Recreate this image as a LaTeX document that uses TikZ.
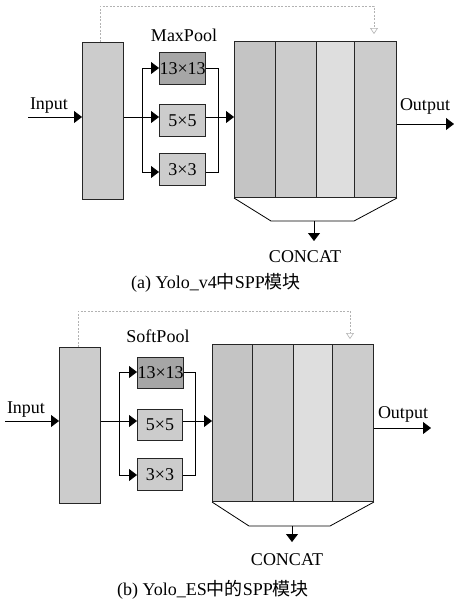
\documentclass[tikz,border=0pt]{standalone}
\usepackage{fontspec}
\setmainfont{Liberation Serif}
\newfontfamily\cjk{Noto Sans CJK SC}
\usetikzlibrary{arrows.meta}
\begin{document}
\begin{tikzpicture}[x=1pt,y=-1pt,
  font=\fontsize{18}{20}\selectfont,
  box/.style={draw=black!85,line width=1pt,inner sep=0pt,anchor=north west},
  lightbox/.style={box,fill=gray!40},
  darkbox/.style={box,fill=gray!70},
  colA/.style={box,fill=gray!46},
  colB/.style={box,fill=gray!40},
  colC/.style={box,fill=gray!26},
  lbl/.style={inner sep=0pt},
  ln/.style={line width=0.8pt,draw=black},
  arr/.style={ln,-{Triangle[length=8pt,width=12pt]}},
  skip/.style={draw=gray!60,line width=0.6pt,dash pattern=on 2pt off 1.5pt,-{Triangle[open,length=6pt,width=8pt]}},
]
\useasboundingbox (0,0) rectangle (454,603);

% ---------------- Panel (a) ----------------
\node[lightbox,minimum width=41pt,minimum height=157pt] (ainbox) at (82,42) {};
\node[darkbox,minimum width=46pt,minimum height=32pt] (a13) at (159,52) {13×13};
\node[lightbox,minimum width=46pt,minimum height=32pt] (a5) at (159,104) {5×5};
\node[lightbox,minimum width=46pt,minimum height=32pt] (a3) at (159,153) {3×3};
\node[colA,minimum width=41pt,minimum height=156pt] (ac1) at (234,41) {};
\node[colB,minimum width=41pt,minimum height=156pt] (ac2) at (275,41) {};
\node[colC,minimum width=38pt,minimum height=156pt] (ac3) at (316,41) {};
\node[colB,minimum width=42pt,minimum height=156pt] (ac4) at (354,41) {};

\node[lbl] (ainput) at (49,106) {Input};
\node[lbl] (aoutput) at (425,106) {Output};
\node[lbl] (amax) at (184,35) {MaxPool};
\node[lbl] (aconcat) at (305,257) {CONCAT};
\node[lbl] (acap) at (216,283) {(a) Yolo\_v4{\cjk 中}SPP{\cjk 模块}};

\coordinate (ain) at (28,117);
\coordinate (asplitT) at (142,68);
\coordinate (asplitM) at (142,117);
\coordinate (asplitB) at (142,172);
\coordinate (acolT) at (218,68);
\coordinate (acolB) at (218,172);
\coordinate (aout) at (454,124);
\coordinate (atrapL) at (271,221);
\coordinate (atrapR) at (354,221);
\coordinate (atrapM) at (314,221);
\coordinate (adown) at (314,241);
\coordinate (askip1) at (100,6);
\coordinate (askip2) at (374,6);
\coordinate (askipE) at (374,34);

\draw[arr] (ain) -- (ain -| ainbox.west);
\draw[ln] (asplitM -| ainbox.east) -- (asplitM);
\draw[ln] (asplitT) -- (asplitB);
\draw[arr] (asplitT) -- (asplitT -| a13.west);
\draw[arr] (asplitM) -- (asplitM -| a5.west);
\draw[arr] (asplitB) -- (asplitB -| a3.west);
\draw[ln] (acolT -| a13.east) -- (acolT) -- (acolB) -- (acolB -| a3.east);
\draw[arr] (asplitM -| a5.east) -- (asplitM -| ac1.west);
\draw[arr] (aout -| ac4.east) -- (aout);
\draw[ln] (ac1.south west) -- (atrapL) -- (atrapR) -- (ac4.south east);
\draw[arr] (atrapM) -- (adown);
\draw[skip] (askip1 |- ainbox.north) -- (askip1) -- (askip2) -- (askipE);

% ---------------- Panel (b) ----------------
\node[lightbox,minimum width=41pt,minimum height=156pt] (binbox) at (59,347) {};
\node[darkbox,minimum width=45pt,minimum height=31pt] (b13) at (137,357) {13×13};
\node[lightbox,minimum width=45pt,minimum height=31pt] (b5) at (137,409) {5×5};
\node[lightbox,minimum width=45pt,minimum height=32pt] (b3) at (137,458) {3×3};
\node[colA,minimum width=40pt,minimum height=157pt] (bc1) at (212,344) {};
\node[colB,minimum width=41pt,minimum height=157pt] (bc2) at (252,344) {};
\node[colC,minimum width=39pt,minimum height=157pt] (bc3) at (293,344) {};
\node[colB,minimum width=41pt,minimum height=157pt] (bc4) at (332,344) {};

\node[lbl] (binput) at (26,410) {Input};
\node[lbl] (boutput) at (403,414) {Output};
\node[lbl] (bsoft) at (158,336) {SoftPool};
\node[lbl] (bconcat) at (287,560) {CONCAT};
\node[lbl] (bcap) at (213,590) {(b) Yolo\_ES{\cjk 中的}SPP{\cjk 模块}};

\coordinate (bin) at (5,421);
\coordinate (bsplitT) at (119,372);
\coordinate (bsplitM) at (119,421);
\coordinate (bsplitB) at (119,475);
\coordinate (bcolT) at (195,372);
\coordinate (bcolB) at (195,475);
\coordinate (bout) at (431,428);
\coordinate (btrapL) at (249,526);
\coordinate (btrapR) at (330,526);
\coordinate (btrapM) at (292,526);
\coordinate (bdown) at (292,542);
\coordinate (bskip1) at (78,311);
\coordinate (bskip2) at (350,311);
\coordinate (bskipE) at (350,339);

\draw[arr] (bin) -- (bin -| binbox.west);
\draw[ln] (bsplitM -| binbox.east) -- (bsplitM);
\draw[ln] (bsplitT) -- (bsplitB);
\draw[arr] (bsplitT) -- (bsplitT -| b13.west);
\draw[arr] (bsplitM) -- (bsplitM -| b5.west);
\draw[arr] (bsplitB) -- (bsplitB -| b3.west);
\draw[ln] (bcolT -| b13.east) -- (bcolT) -- (bcolB) -- (bcolB -| b3.east);
\draw[arr] (bsplitM -| b5.east) -- (bsplitM -| bc1.west);
\draw[arr] (bout -| bc4.east) -- (bout);
\draw[ln] (bc1.south west) -- (btrapL) -- (btrapR) -- (bc4.south east);
\draw[arr] (btrapM) -- (bdown);
\draw[skip] (bskip1 |- binbox.north) -- (bskip1) -- (bskip2) -- (bskipE);
\end{tikzpicture}
\end{document}
